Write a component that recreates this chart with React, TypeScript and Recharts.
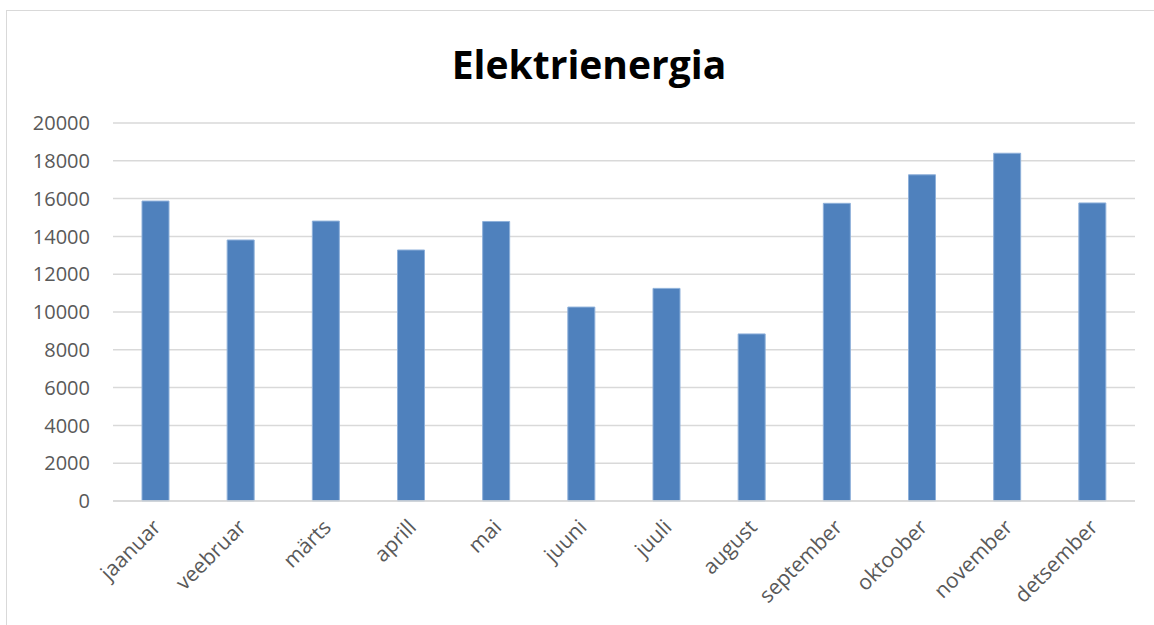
import { BarChart, Bar, XAxis, YAxis, CartesianGrid } from "recharts";

const months = [
  "jaanuar",
  "veebruar",
  "märts",
  "aprill",
  "mai",
  "juuni",
  "juuli",
  "august",
  "september",
  "oktoober",
  "november",
  "detsember",
];
const energy = [15870, 13810, 14810, 13280, 14790, 10260, 11250, 8840, 15750, 17260, 18400, 15770];
const yTicks = [0, 2000, 4000, 6000, 8000, 10000, 12000, 14000, 16000, 18000, 20000];

const data = months.map((m, i) => ({ month: m, value: energy[i] }));

const font = "'Open Sans', 'Liberation Sans', sans-serif";

const App = () => {
  return (
    <div style={{ position: "absolute", left: 0, top: 0, width: 1154, height: 625, overflow: "hidden", background: "#fff" }}>
      <div
        style={{
          position: "absolute",
          left: 6,
          top: 10,
          width: 1200,
          height: 700,
          border: "1px solid #d9d9d9",
        }}
      />
      <div
        style={{
          position: "absolute",
          left: 0,
          top: 37,
          width: 1178,
          textAlign: "center",
          fontFamily: font,
          fontWeight: 700,
          fontSize: 39,
          color: "#000",
        }}
      >
        Elektrienergia
      </div>
      <div style={{ position: "absolute", left: 0, top: 0 }}>
        <BarChart
          width={1154}
          height={625}
          data={data}
          margin={{ top: 123, right: 19, bottom: 0, left: 0 }}
        >
          <CartesianGrid vertical={false} stroke="#d9d9d9" strokeWidth={1.5} />
          <XAxis
            dataKey="month"
            axisLine={{ stroke: "#d9d9d9", strokeWidth: 1.5 }}
            tickLine={false}
            interval={0}
            height={124}
            tick={{ fill: "#595959", fontSize: 21, fontFamily: font, angle: -45, textAnchor: "end", dx: -4, dy: 9 }}
          />
          <YAxis
            width={113}
            domain={[0, 20000]}
            ticks={yTicks}
            interval={0}
            axisLine={false}
            tickLine={false}
            tickSize={0}
            tickMargin={23}
            tick={{ fill: "#595959", fontSize: 20, fontFamily: font }}
          />
          <Bar dataKey="value" fill="#4f81bd" stroke="#8eb0da" strokeWidth={1} barSize={27} isAnimationActive={false} />
        </BarChart>
      </div>
    </div>
  );
};

export default App;
